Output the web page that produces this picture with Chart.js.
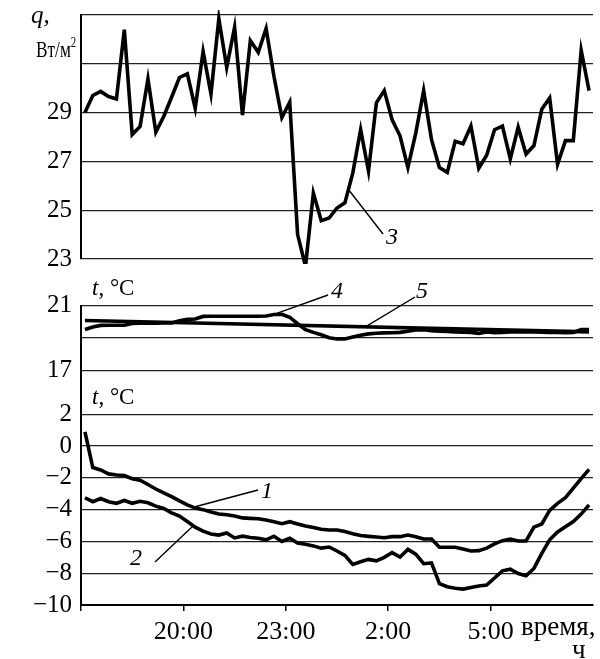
<!DOCTYPE html>
<html>
<head>
<meta charset="utf-8">
<script src="https://cdn.jsdelivr.net/npm/chart.js@4.4.1/dist/chart.umd.min.js"></script>
<style>
    body { margin: 0; background: #fff; }
    #wrap { position: relative; width: 600px; height: 659px; overflow: hidden; font-family: "Liberation Serif", "Times New Roman", serif; color: #000; }
    #wrap canvas { position: absolute; left: 0; }
    .lbl { position: absolute; line-height: 1; white-space: nowrap; }
    .it { font-style: italic; }
</style>
</head>
<body>
<div id="wrap">
    <canvas id="chart-q" width="600" height="270" style="top:0"></canvas>
    <canvas id="chart-room" width="600" height="120" style="top:280px"></canvas>
    <canvas id="chart-out" width="600" height="259" style="top:400px"></canvas>

    <div class="lbl it" style="left:31px;top:2px;font-size:25px">q,</div>
    <div class="lbl" style="left:36px;top:37px;font-size:24px;transform:scaleX(0.72);transform-origin:left top">Вт/м<span style="font-size:15px;position:relative;top:-10px">2</span></div>
    <div class="lbl" style="left:92px;top:276px;font-size:23px"><span class="it">t</span>, °C</div>
    <div class="lbl" style="left:92px;top:385px;font-size:23px"><span class="it">t</span>, °C</div>

    <div class="lbl it" style="left:386px;top:224px;font-size:24px">3</div>
    <div class="lbl it" style="left:331px;top:278px;font-size:24px">4</div>
    <div class="lbl it" style="left:416px;top:278px;font-size:24px">5</div>
    <div class="lbl it" style="left:261px;top:478px;font-size:24px">1</div>
    <div class="lbl it" style="left:130px;top:545px;font-size:24px">2</div>

    <div class="lbl" style="left:521px;top:613px;font-size:27px">время,</div>
    <div class="lbl" style="left:572px;top:636px;font-size:27px">ч</div>
</div>

<script>
    "use strict";

    // x axis: equally spaced samples, one tick every 13 samples (3 h)
    const sampleCount = 65;
    const samplesPerTick = 13;
    const timeLabels = ['', '20:00', '23:00', '2:00', '5:00'];

    // heat flux q, W/m2 (curve 3)
    const qValues = [
        29.0, 29.7, 29.87, 29.66, 29.56, 32.4, 28.1, 28.43, 30.38, 28.2,
        28.84, 29.63, 30.44, 30.59, 29.18, 31.5, 29.76, 32.85, 30.85, 32.5,
        28.9, 31.95, 31.47, 32.45, 30.48, 28.8, 29.43, 24.0, 22.7, 25.7,
        24.57, 24.68, 25.09, 25.3, 26.52, 28.3, 26.6, 29.4, 29.9, 28.7,
        28.05, 26.75, 28.16, 29.9, 27.89, 26.75, 26.55, 27.82, 27.72, 28.45,
        26.72, 27.25, 28.3, 28.45, 27.1, 28.4, 27.3, 27.65, 29.14, 29.6,
        26.88, 27.85, 27.85, 31.55, 29.9
    ];

    // room temperatures (curve 4 measured, curve 5 straight line ends)
    const t4Values = [
        19.53, 19.68, 19.78, 19.79, 19.79, 19.79, 19.9, 19.91, 19.92, 19.92,
        19.93, 19.93, 20.06, 20.15, 20.17, 20.33, 20.34, 20.34, 20.34, 20.34,
        20.34, 20.34, 20.34, 20.36, 20.45, 20.46, 20.28, 19.88, 19.52, 19.35,
        19.2, 19.02, 18.94, 18.95, 19.06, 19.18, 19.26, 19.3, 19.32, 19.33,
        19.35, 19.42, 19.5, 19.51, 19.45, 19.43, 19.41, 19.38, 19.36, 19.35,
        19.29, 19.37, 19.33, 19.34, 19.37, 19.38, 19.38, 19.37, 19.36, 19.35,
        19.34, 19.33, 19.34, 19.53, 19.53
    ];
    const t5Ends = [20.08, 19.38];

    // outdoor temperatures (curves 1 and 2)
    const t1Values = [
        0.9, -1.35, -1.5, -1.75, -1.82, -1.85, -2.05, -2.15, -2.42, -2.7,
        -2.95, -3.18, -3.45, -3.7, -3.9, -4.0, -4.15, -4.27, -4.32, -4.4,
        -4.52, -4.55, -4.57, -4.65, -4.76, -4.88, -4.76, -4.9, -5.03, -5.13,
        -5.23, -5.28, -5.28, -5.38, -5.52, -5.63, -5.68, -5.72, -5.77, -5.7,
        -5.7, -5.6, -5.7, -5.85, -5.85, -6.37, -6.37, -6.37, -6.48, -6.6,
        -6.58, -6.42, -6.15, -5.95, -5.85, -5.97, -5.97, -5.1, -4.9, -4.05,
        -3.6, -3.25, -2.65, -2.05, -1.47
    ];
    const t2Values = [
        -3.25, -3.5, -3.3, -3.5, -3.6, -3.42, -3.6, -3.47, -3.57, -3.78,
        -3.93, -4.2, -4.4, -4.75, -5.1, -5.35, -5.53, -5.6, -5.47, -5.78,
        -5.67, -5.75, -5.8, -5.9, -5.67, -6.0, -5.8, -6.1, -6.18, -6.28,
        -6.42, -6.35, -6.6, -6.88, -7.45, -7.28, -7.13, -7.22, -7.0, -6.7,
        -6.98, -6.5, -6.8, -7.4, -7.35, -8.65, -8.85, -8.95, -9.0, -8.9,
        -8.8, -8.75, -8.3, -7.85, -7.75, -8.02, -8.16, -7.7, -6.75, -5.9,
        -5.4, -5.07, -4.75, -4.28, -3.7
    ];

    // y ticks per panel, and which of them carry a label
    const qTicks = [23, 25, 27, 29, 31, 33];
    const qShown = [23, 25, 27, 29];
    const roomTicks = [17, 19, 21];
    const roomShown = [17, 21];
    const outTicks = [-10, -8, -6, -4, -2, 0, 2];

    Chart.defaults.font.family = '"Liberation Serif", "Times New Roman", serif';
    Chart.defaults.color = '#000';

    const toPoints = (values) => values.map((v, i) => ({ x: i, y: v }));
    const fmt = (v) => (v < 0 ? '\u2212' + Math.abs(v) : String(v));

    const valueAt = (pts, at) => {
        for (let k = 0; k < pts.length - 1; k++) {
            const a = pts[k], b = pts[k + 1];
            if (at >= a.x && at <= b.x) {
                return a.y + (b.y - a.y) * (at - a.x) / (b.x - a.x);
            }
        }
        return pts[pts.length - 1].y;
    };

    // leader lines from a curve to its number
    const leaderPlugin = {
        id: 'leaders',
        afterDatasetsDraw(chart, args, opts) {
            const { ctx } = chart;
            const x = chart.scales.x, y = chart.scales.y;
            ctx.save();
            ctx.strokeStyle = '#000';
            ctx.lineWidth = 1.4;
            (opts.lines || []).forEach(l => {
                const v = valueAt(chart.data.datasets[l.ds].data, l.at);
                ctx.beginPath();
                ctx.moveTo(x.getPixelForValue(l.at), y.getPixelForValue(v));
                ctx.lineTo(l.to[0], l.to[1]);
                ctx.stroke();
            });
            ctx.restore();
        }
    };

    const xScale = (show) => ({
        type: 'linear',
        display: show,
        min: -0.5,
        max: sampleCount - 0.5,
        afterBuildTicks: s => {
            s.ticks = timeLabels.map((_, i) => ({ value: i * samplesPerTick - 0.5 }));
        },
        afterFit: s => {
            s.height = show ? 54 : 0;
            s.paddingLeft = 0;
            s.paddingRight = 0;
        },
        grid: { drawOnChartArea: false, drawTicks: true, tickLength: 6, color: '#000', lineWidth: 1.5 },
        border: { color: '#000', width: 2 },
        ticks: {
            autoSkip: false,
            maxRotation: 0,
            padding: 6,
            font: { size: 26 },
            callback: (v, i) => timeLabels[i]
        }
    });

    const yScale = (min, max, ticks, shown) => ({
        min: min,
        max: max,
        afterBuildTicks: s => {
            s.ticks = ticks.map(v => ({ value: v }));
        },
        afterFit: s => {
            s.width = 81;
            s.paddingTop = 0;
            s.paddingBottom = 0;
        },
        grid: { color: '#222', lineWidth: 1.2, drawTicks: false },
        border: { color: '#000', width: 2 },
        ticks: {
            padding: 9,
            font: { size: 25 },
            callback: v => (shown.includes(v) ? fmt(v) : '')
        }
    });

    const line = (data) => ({
        data: data,
        borderColor: '#000',
        borderWidth: 3.6,
        pointRadius: 0,
        fill: false,
        tension: 0,
        clip: 5
    });

    const makeChart = (id, datasets, scales, padding, lines) => new Chart(document.getElementById(id), {
        type: 'line',
        data: { datasets: datasets },
        options: {
            responsive: false,
            animation: false,
            layout: { padding: padding },
            scales: scales,
            plugins: {
                legend: { display: false },
                tooltip: { enabled: false },
                leaders: { lines: lines }
            }
        },
        plugins: [leaderPlugin]
    });

    // heat flux panel
    makeChart('chart-q',
        [line(toPoints(qValues))],
        { x: xScale(false), y: yScale(23, 33, qTicks, qShown) },
        { top: 15, bottom: 11, left: 0, right: 7 },
        [{ ds: 0, at: 33.45, to: [383, 234] }]
    );

    // room temperature panel
    makeChart('chart-room',
        [line(toPoints(t4Values)), line([{ x: 0, y: t5Ends[0] }, { x: sampleCount - 1, y: t5Ends[1] }])],
        { x: xScale(false), y: yScale(15.2, 21, roomTicks, roomShown) },
        { top: 25.5, bottom: 0, left: 0, right: 7 },
        [{ ds: 0, at: 24, to: [328, 15] }, { ds: 1, at: 35.6, to: [415, 17] }]
    );

    // outdoor temperature panel
    makeChart('chart-out',
        [line(toPoints(t1Values)), line(toPoints(t2Values))],
        { x: xScale(true), y: yScale(-10, 2.9, outTicks, outTicks) },
        { top: 0, bottom: 0, left: 0, right: 7 },
        [{ ds: 0, at: 13.75, to: [258, 90] }, { ds: 1, at: 13.75, to: [155, 162] }]
    );
</script>
</body>
</html>
